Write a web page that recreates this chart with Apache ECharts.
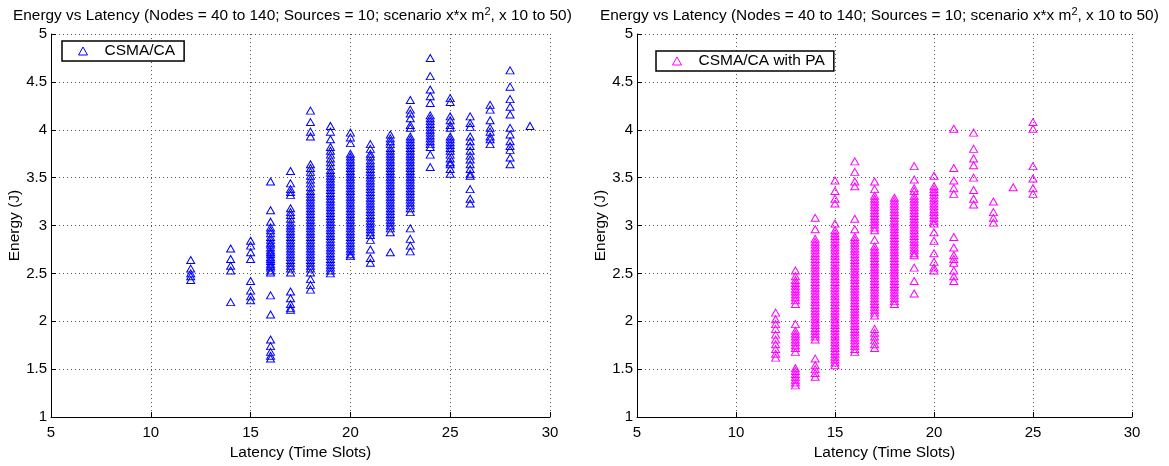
<!DOCTYPE html>
<html>
<head>
<meta charset="utf-8">
<script src="https://cdn.jsdelivr.net/npm/echarts@6/dist/echarts.min.js"></script>
<style>
html,body{margin:0;padding:0;background:#fff;}
#chart{width:1169px;height:466px;}
</style>
</head>
<body>
<div id="chart"></div>
<script>
// ---- Data ----
const titleText = 'Energy vs Latency (Nodes = 40 to 140; Sources = 10; scenario x*x m{sup|2}, x 10 to 50)';
const xTicks = [5, 10, 15, 20, 25, 30];
const yTicks = [1, 1.5, 2, 2.5, 3, 3.5, 4, 4.5, 5];

// CSMA/CA: latency columns and the energies observed at each
const csmaLatency = [12, 14, 15, 16, 17, 18, 19, 20, 21, 22, 23, 24, 25, 26, 27, 28, 29];
const csmaEnergy = [
  [2.64, 2.55, 2.50, 2.47, 2.43],
  [2.76, 2.65, 2.58, 2.53, 2.20],
  [2.84, 2.79, 2.72, 2.65, 2.42, 2.32, 2.26, 2.22],
  [3.46, 3.16, 3.04, 2.98, 2.95, 2.92, 2.88, 2.85, 2.82, 2.80, 2.77, 2.74, 2.72, 2.70, 2.67, 2.65, 2.63, 2.60, 2.58, 2.56, 2.53, 2.51, 2.27, 2.07, 1.81, 1.74, 1.68, 1.64, 1.61],
  [3.57, 3.44, 3.38, 3.35, 3.32, 3.18, 3.14, 3.11, 3.07, 3.03, 3.00, 2.97, 2.94, 2.91, 2.88, 2.85, 2.82, 2.79, 2.76, 2.73, 2.70, 2.67, 2.64, 2.61, 2.58, 2.55, 2.51, 2.31, 2.24, 2.18, 2.14, 2.12],
  [4.20, 4.08, 3.98, 3.93, 3.64, 3.60, 3.56, 3.52, 3.48, 3.44, 3.40, 3.36, 3.33, 3.30, 3.27, 3.24, 3.21, 3.18, 3.15, 3.12, 3.09, 3.06, 3.03, 3.00, 2.97, 2.94, 2.91, 2.88, 2.85, 2.82, 2.79, 2.76, 2.73, 2.70, 2.67, 2.64, 2.61, 2.58, 2.55, 2.51, 2.44, 2.38, 2.33],
  [4.04, 3.98, 3.90, 3.82, 3.78, 3.74, 3.70, 3.66, 3.62, 3.58, 3.55, 3.52, 3.49, 3.46, 3.43, 3.40, 3.37, 3.34, 3.31, 3.28, 3.25, 3.22, 3.19, 3.16, 3.13, 3.10, 3.07, 3.04, 3.01, 2.98, 2.95, 2.92, 2.89, 2.86, 2.83, 2.80, 2.77, 2.74, 2.71, 2.68, 2.65, 2.62, 2.59, 2.56, 2.53, 2.50],
  [3.97, 3.92, 3.86, 3.75, 3.72, 3.69, 3.66, 3.63, 3.60, 3.57, 3.54, 3.51, 3.48, 3.45, 3.42, 3.39, 3.36, 3.33, 3.30, 3.27, 3.24, 3.21, 3.18, 3.15, 3.12, 3.09, 3.06, 3.03, 3.00, 2.97, 2.94, 2.91, 2.88, 2.85, 2.82, 2.79, 2.76, 2.73, 2.70, 2.68],
  [3.85, 3.80, 3.75, 3.72, 3.68, 3.65, 3.62, 3.59, 3.56, 3.53, 3.50, 3.47, 3.44, 3.41, 3.38, 3.35, 3.32, 3.29, 3.26, 3.23, 3.20, 3.17, 3.14, 3.11, 3.08, 3.05, 3.02, 2.99, 2.96, 2.93, 2.90, 2.85, 2.75, 2.66, 2.61],
  [3.95, 3.91, 3.88, 3.85, 3.81, 3.78, 3.75, 3.72, 3.69, 3.66, 3.63, 3.60, 3.57, 3.54, 3.51, 3.48, 3.45, 3.42, 3.39, 3.36, 3.33, 3.30, 3.27, 3.24, 3.21, 3.18, 3.15, 3.12, 3.09, 3.06, 3.03, 3.00, 2.97, 2.93, 2.72],
  [4.31, 4.21, 4.17, 4.12, 4.05, 4.02, 3.93, 3.90, 3.87, 3.84, 3.81, 3.78, 3.75, 3.72, 3.69, 3.66, 3.63, 3.60, 3.57, 3.54, 3.51, 3.48, 3.45, 3.42, 3.39, 3.36, 3.33, 3.30, 3.27, 3.24, 3.21, 3.18, 3.14, 2.97, 2.86, 2.79, 2.73],
  [4.75, 4.56, 4.42, 4.35, 4.28, 4.15, 4.12, 4.09, 4.06, 4.03, 4.00, 3.97, 3.94, 3.91, 3.88, 3.85, 3.82, 3.74, 3.61],
  [4.33, 4.29, 4.14, 4.10, 4.05, 4.02, 3.93, 3.90, 3.87, 3.84, 3.81, 3.78, 3.74, 3.70, 3.66, 3.64, 3.59, 3.54],
  [4.14, 4.07, 4.03, 3.93, 3.88, 3.83, 3.78, 3.73, 3.69, 3.64, 3.59, 3.54, 3.52, 3.38, 3.28, 3.23],
  [4.26, 4.21, 4.10, 4.02, 3.98, 3.93, 3.90, 3.85],
  [4.62, 4.45, 4.32, 4.24, 4.16, 4.02, 3.95, 3.88, 3.83, 3.79, 3.71, 3.64],
  [4.04]
];

// CSMA/CA with PA
const paLatency = [12, 13, 14, 15, 16, 17, 18, 19, 20, 21, 22, 23, 24, 25];
const paEnergy = [
  [2.09, 2.02, 1.97, 1.92, 1.86, 1.81, 1.76, 1.71, 1.66, 1.62],
  [2.53, 2.47, 2.43, 2.40, 2.37, 2.34, 2.31, 2.28, 2.25, 2.22, 2.18, 1.97, 1.90, 1.87, 1.84, 1.81, 1.78, 1.75, 1.72, 1.68, 1.51, 1.48, 1.45, 1.42, 1.39, 1.36, 1.33],
  [3.08, 2.96, 2.86, 2.83, 2.80, 2.77, 2.74, 2.71, 2.68, 2.65, 2.62, 2.59, 2.56, 2.53, 2.50, 2.47, 2.44, 2.41, 2.38, 2.35, 2.32, 2.29, 2.26, 2.23, 2.20, 2.17, 2.14, 2.11, 2.08, 2.05, 2.02, 1.99, 1.96, 1.93, 1.90, 1.87, 1.84, 1.81, 1.61, 1.54, 1.50, 1.46, 1.42],
  [3.47, 3.36, 3.28, 3.23, 3.02, 2.95, 2.92, 2.89, 2.86, 2.83, 2.80, 2.77, 2.74, 2.71, 2.68, 2.65, 2.62, 2.59, 2.56, 2.53, 2.50, 2.47, 2.44, 2.41, 2.38, 2.35, 2.32, 2.29, 2.26, 2.23, 2.20, 2.17, 2.14, 2.11, 2.08, 2.05, 2.02, 1.99, 1.96, 1.93, 1.90, 1.87, 1.84, 1.81, 1.78, 1.75, 1.72, 1.69, 1.66, 1.63, 1.60, 1.57, 1.54],
  [3.67, 3.56, 3.46, 3.41, 3.07, 2.96, 2.88, 2.85, 2.82, 2.79, 2.76, 2.73, 2.70, 2.67, 2.64, 2.61, 2.58, 2.55, 2.52, 2.49, 2.46, 2.43, 2.40, 2.37, 2.34, 2.31, 2.28, 2.25, 2.22, 2.19, 2.16, 2.13, 2.10, 2.07, 2.04, 2.01, 1.98, 1.95, 1.92, 1.89, 1.86, 1.83, 1.80, 1.77, 1.74, 1.71, 1.68],
  [3.46, 3.38, 3.31, 3.28, 3.25, 3.22, 3.19, 3.16, 3.13, 3.10, 3.07, 3.04, 3.01, 2.98, 2.95, 2.85, 2.78, 2.75, 2.72, 2.69, 2.66, 2.63, 2.60, 2.57, 2.54, 2.51, 2.48, 2.45, 2.42, 2.39, 2.36, 2.33, 2.30, 2.27, 2.24, 2.21, 2.18, 2.15, 2.12, 2.09, 2.06, 1.92, 1.88, 1.84, 1.80, 1.76, 1.72],
  [3.29, 3.26, 3.23, 3.20, 3.17, 3.14, 3.11, 3.08, 3.05, 3.02, 2.99, 2.96, 2.93, 2.90, 2.87, 2.84, 2.81, 2.78, 2.75, 2.72, 2.69, 2.66, 2.63, 2.60, 2.57, 2.54, 2.51, 2.48, 2.45, 2.42, 2.39, 2.36, 2.33, 2.30, 2.27, 2.24, 2.21, 2.18],
  [3.62, 3.48, 3.39, 3.36, 3.31, 3.28, 3.25, 3.22, 3.19, 3.16, 3.13, 3.10, 3.07, 3.04, 3.01, 2.98, 2.95, 2.92, 2.89, 2.86, 2.83, 2.80, 2.77, 2.74, 2.71, 2.69, 2.56, 2.42, 2.29],
  [3.52, 3.41, 3.38, 3.35, 3.32, 3.29, 3.26, 3.23, 3.20, 3.17, 3.14, 3.11, 3.08, 3.05, 3.02, 2.93, 2.84, 2.71, 2.62, 2.56, 2.53],
  [4.01, 3.60, 3.47, 3.39, 3.33, 2.88, 2.77, 2.69, 2.65, 2.61, 2.53, 2.47, 2.42],
  [3.97, 3.80, 3.70, 3.63, 3.50, 3.37, 3.28, 3.22],
  [3.25, 3.14, 3.08, 3.03],
  [3.40],
  [4.08, 4.01, 3.62, 3.49, 3.39, 3.33]
];

const seriesNames = ['CSMA/CA', 'CSMA/CA with PA'];
const seriesColors = ['#0000ff', '#ff00ff'];

// ---- Build ----
function pairs(lat, en) {
  const out = [];
  lat.forEach((x, i) => en[i].forEach(y => out.push([x, y])));
  return out;
}

const FONT = 'Liberation Sans, Arial, sans-serif';
const gridLines = { show: true, lineStyle: { color: '#555', type: [1, 3], width: 1 } };

function xAxis(idx) {
  return {
    gridIndex: idx, type: 'value', min: xTicks[0], max: xTicks[xTicks.length - 1], interval: 5,
    name: 'Latency (Time Slots)', nameLocation: 'middle', nameGap: 28,
    nameTextStyle: { color: '#000', fontSize: 15.5, fontFamily: FONT },
    axisLine: { show: true, onZero: false, lineStyle: { color: '#000', width: 1 } },
    axisTick: { show: true, inside: true, length: 5, lineStyle: { color: '#000' } },
    axisLabel: { color: '#000', fontSize: 15, fontFamily: FONT, margin: 8 },
    splitLine: gridLines
  };
}
function yAxis(idx) {
  return {
    gridIndex: idx, type: 'value', min: yTicks[0], max: yTicks[yTicks.length - 1], interval: 0.5,
    name: 'Energy (J)', nameLocation: 'middle', nameGap: 25,
    nameTextStyle: { color: '#000', fontSize: 15.5, fontFamily: FONT },
    axisLine: { show: true, onZero: false, lineStyle: { color: '#000', width: 1 } },
    axisTick: { show: true, inside: true, length: 5, lineStyle: { color: '#000' } },
    axisLabel: { color: '#000', fontSize: 15, fontFamily: FONT, margin: 4 },
    splitLine: gridLines
  };
}
function scatter(idx, data) {
  return {
    name: seriesNames[idx], type: 'scatter', xAxisIndex: idx, yAxisIndex: idx,
    symbol: 'triangle', symbolSize: [8, 7],
    itemStyle: { color: 'rgba(0,0,0,0)', borderColor: seriesColors[idx], borderWidth: 1, opacity: 1 },
    emphasis: { disabled: true },
    animation: false,
    data: data
  };
}
function legend(idx, left, top) {
  return {
    show: true, left: left, top: top, orient: 'vertical',
    data: [{ name: seriesNames[idx], icon: 'triangle',
      itemStyle: { color: 'rgba(0,0,0,0)', borderColor: seriesColors[idx], borderWidth: 1 } }],
    itemWidth: 9, itemHeight: 8,
    borderColor: '#000', borderWidth: 1.5, backgroundColor: '#fff',
    padding: [2, 9, 2, 16],
    selectedMode: false,
    textStyle: { color: '#000', fontSize: 15.5, fontFamily: FONT, padding: [0, 0, 0, 12] }
  };
}
function title(left) {
  return {
    text: titleText, left: left, top: 1,
    textStyle: {
      color: '#000', fontSize: 15.4, fontWeight: 'normal', fontFamily: FONT, lineHeight: 20,
      rich: { sup: { fontSize: 11, fontFamily: FONT, color: '#000', verticalAlign: 'top', lineHeight: 14 } }
    }
  };
}

const option = {
  animation: false,
  backgroundColor: '#fff',
  title: [title(8), title(595)],
  legend: [legend(0, 62, 41), legend(1, 656, 51)],
  grid: [
    { left: 51, top: 34, width: 499, height: 390, containLabel: false },
    { left: 637, top: 34, width: 495, height: 390, containLabel: false }
  ],
  xAxis: [xAxis(0), xAxis(1)],
  yAxis: [yAxis(0), yAxis(1)],
  series: [
    scatter(0, pairs(csmaLatency, csmaEnergy)),
    scatter(1, pairs(paLatency, paEnergy))
  ]
};

const chart = echarts.init(document.getElementById('chart'), null, { renderer: 'canvas' });
chart.setOption(option);
</script>
</body>
</html>
